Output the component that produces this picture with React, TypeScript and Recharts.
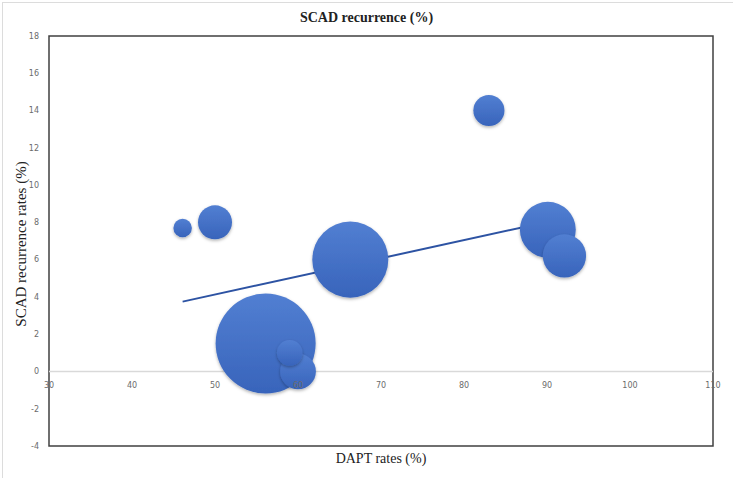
import React from 'react';
import { ScatterChart, Scatter, XAxis, YAxis, ZAxis, ReferenceLine, ReferenceArea } from 'recharts';

// Bubble data (drawn largest first, like the original)
const daptRates = [56.1, 66.3, 90.1, 92.1, 60.0, 50.0, 83.0, 59.0, 46.1];
const recurrenceRates = [1.5, 6.0, 7.6, 6.2, 0.0, 8.0, 14.0, 1.0, 7.7];
const bubbleSizes = [320, 185, 100, 60, 41, 37, 31, 21, 11];

const xTicks = [30, 40, 50, 60, 70, 80, 90, 100, 110];
const yTicks = [-4, -2, 0, 2, 4, 6, 8, 10, 12, 14, 16, 18];

const chartTitle = 'SCAD recurrence (%)';
const xTitle = 'DAPT rates (%)';
const yTitle = 'SCAD recurrence rates (%)';

const data = daptRates.map((x, i) => ({ x, y: recurrenceRates[i], z: bubbleSizes[i] }));

const TICK_FONT = 'DejaVu Sans, sans-serif';
const SERIF = '"Liberation Serif", "Times New Roman", serif';

const XTick = (props: any) => {
  const { x, y, payload } = props;
  return (
    <text x={x} y={y - 58} textAnchor="middle" fontSize={8} fill="#6b6b6b" fontFamily={TICK_FONT}>
      {payload.value}
    </text>
  );
};

const Bubble = (props: any) => {
  const { cx, cy, width } = props;
  const r = width / 2;
  return <circle cx={cx} cy={cy} r={r} fill="url(#bubbleFill)" filter="url(#bubbleShadow)" />;
};

const XTitle = (props: any) => {
  const vb = props.viewBox || { x: 49, y: 446, width: 664 };
  return (
    <text x={vb.x + vb.width / 2} y={vb.y + 17} textAnchor="middle" fontSize={14} fill="#222" fontFamily={SERIF}>
      {xTitle}
    </text>
  );
};

const YTitle = (props: any) => {
  const vb = props.viewBox || { x: 0, y: 36, width: 49, height: 410 };
  const cy = vb.y + vb.height / 2 + 3;
  return (
    <text x={26} y={cy} transform={`rotate(-90, 26, ${cy})`} textAnchor="middle" fontSize={15} fill="#222" fontFamily={SERIF}>
      {yTitle}
    </text>
  );
};

export default function App() {
  return (
    <div style={{ position: 'absolute', left: 0, top: 0, width: 733, height: 478, background: '#fff' }}>
      <div style={{ position: 'absolute', left: 2, top: 2, width: 731, height: 476, borderLeft: '1px solid #dcdcdc', borderTop: '1px solid #dcdcdc' }} />
      <ScatterChart width={733} height={478} margin={{ top: 36, right: 20, bottom: 2, left: 0 }}>
        <defs>
          <linearGradient id="bubbleFill" x1="0" y1="0" x2="0" y2="1">
            <stop offset="0%" stopColor="#527fd2" />
            <stop offset="100%" stopColor="#3864bb" />
          </linearGradient>
          <filter id="bubbleShadow" x="-30%" y="-30%" width="160%" height="160%">
            <feDropShadow dx="0" dy="1.5" stdDeviation="1.5" floodColor="#000" floodOpacity="0.3" />
          </filter>
        </defs>
        <text x={366.5} y={22} textAnchor="middle" fontSize={14} fontWeight="bold" fill="#222" fontFamily={SERIF}>
          {chartTitle}
        </text>
        <XAxis
          type="number"
          dataKey="x"
          domain={[30, 110]}
          ticks={xTicks}
          interval={0}
          height={30}
          axisLine={false}
          tickLine={false}
          tickSize={0}
          tickMargin={0}
          tick={<XTick />}
          label={<XTitle />}
        />
        <YAxis
          type="number"
          dataKey="y"
          domain={[-4, 18]}
          ticks={yTicks}
          interval={0}
          width={49}
          axisLine={false}
          tickLine={false}
          tickSize={0}
          tickMargin={10}
          tick={{ fontSize: 8, fill: '#6b6b6b', fontFamily: TICK_FONT }}
          label={<YTitle />}
        />
        <ZAxis type="number" dataKey="z" domain={[0, 320]} range={[0, Math.PI * 2500]} />
        <ReferenceLine y={0} stroke="#d9d9d9" strokeWidth={1.5} />
        <ReferenceArea x1={30} x2={110} y1={-4} y2={18} fill="none" fillOpacity={0} stroke="#404040" strokeWidth={1.5} />
        <Scatter
          data={data}
          shape={<Bubble />}
          line={{ stroke: '#2d53a3', strokeWidth: 2 }}
          lineType="fitting"
          isAnimationActive={false}
        />
      </ScatterChart>
    </div>
  );
}
